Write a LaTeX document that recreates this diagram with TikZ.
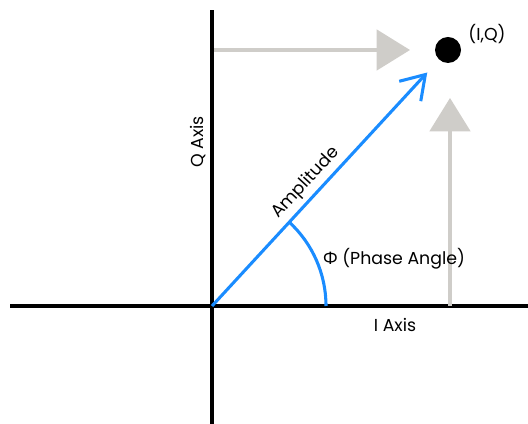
\documentclass[tikz,border=0pt]{standalone}
\usepackage{fontspec}
\setmainfont{Poppins}
\newfontfamily\greekfont{Noto Sans}
\usetikzlibrary{arrows.meta}
\usepackage{xcolor}
\definecolor{ampblue}{HTML}{1A8CFF}
\definecolor{projgray}{HTML}{CFCDC9}
\tikzset{
  axis/.style={line width=3pt, draw=black},
  proj/.style={line width=3.4pt, draw=projgray, -{Triangle[length=25pt, width=30pt, fill=projgray]}},
  amp/.style={line width=2.3pt, draw=ampblue, -{Straight Barb[length=17pt, width=22pt]}},
  phase/.style={line width=2.3pt, draw=ampblue},
  lbl/.style={font=\fontsize{13}{15}\selectfont, inner sep=0pt},
  iqdot/.style={circle, fill=black, inner sep=0pt, minimum size=19.5pt},
}

\begin{document}
\begin{tikzpicture}[x=0.75pt, y=0.75pt]
  \useasboundingbox (0,0) rectangle (528,424);
  % axes
  \coordinate (O) at (212,118);
  \coordinate (qtop) at (212,414);
  \coordinate (qbot) at (212,0);
  \coordinate (ileft) at (10,118);
  \coordinate (iright) at (528,118);
  \draw[axis] (qbot) -- (qtop);
  \draw[axis] (ileft) -- (iright);
  \node[lbl] (ilabel) at (395,99) {I Axis};
  \node[lbl, rotate=90] (qlabel) at (198,282) {Q Axis};
  % the point and its projections
  \node[iqdot] (iq) at (448,374) {};
  \node[lbl] (iqlabel) at (487,390) {(I,Q)};
  \coordinate (qfoot) at (214,374);
  \coordinate (ifoot) at (450,118);
  \draw[proj, shorten >=18.5pt] (qfoot) -- (iq);
  \draw[proj, shorten >=26pt] (ifoot) -- (ifoot |- iq.south);
  % amplitude vector and phase angle
  \draw[amp, shorten >=13pt] (O) -- (iq)
    node[lbl, sloped, above=3pt, pos=0.46] (amplabel) {Amplitude};
  \draw[phase] ([xshift=85.5pt]O) arc[start angle=0, end angle=47.5, radius=85.5pt];
  \node[lbl] (phaselabel) at (394,165) {{\greekfont Φ} (Phase Angle)};
\end{tikzpicture}
\end{document}
